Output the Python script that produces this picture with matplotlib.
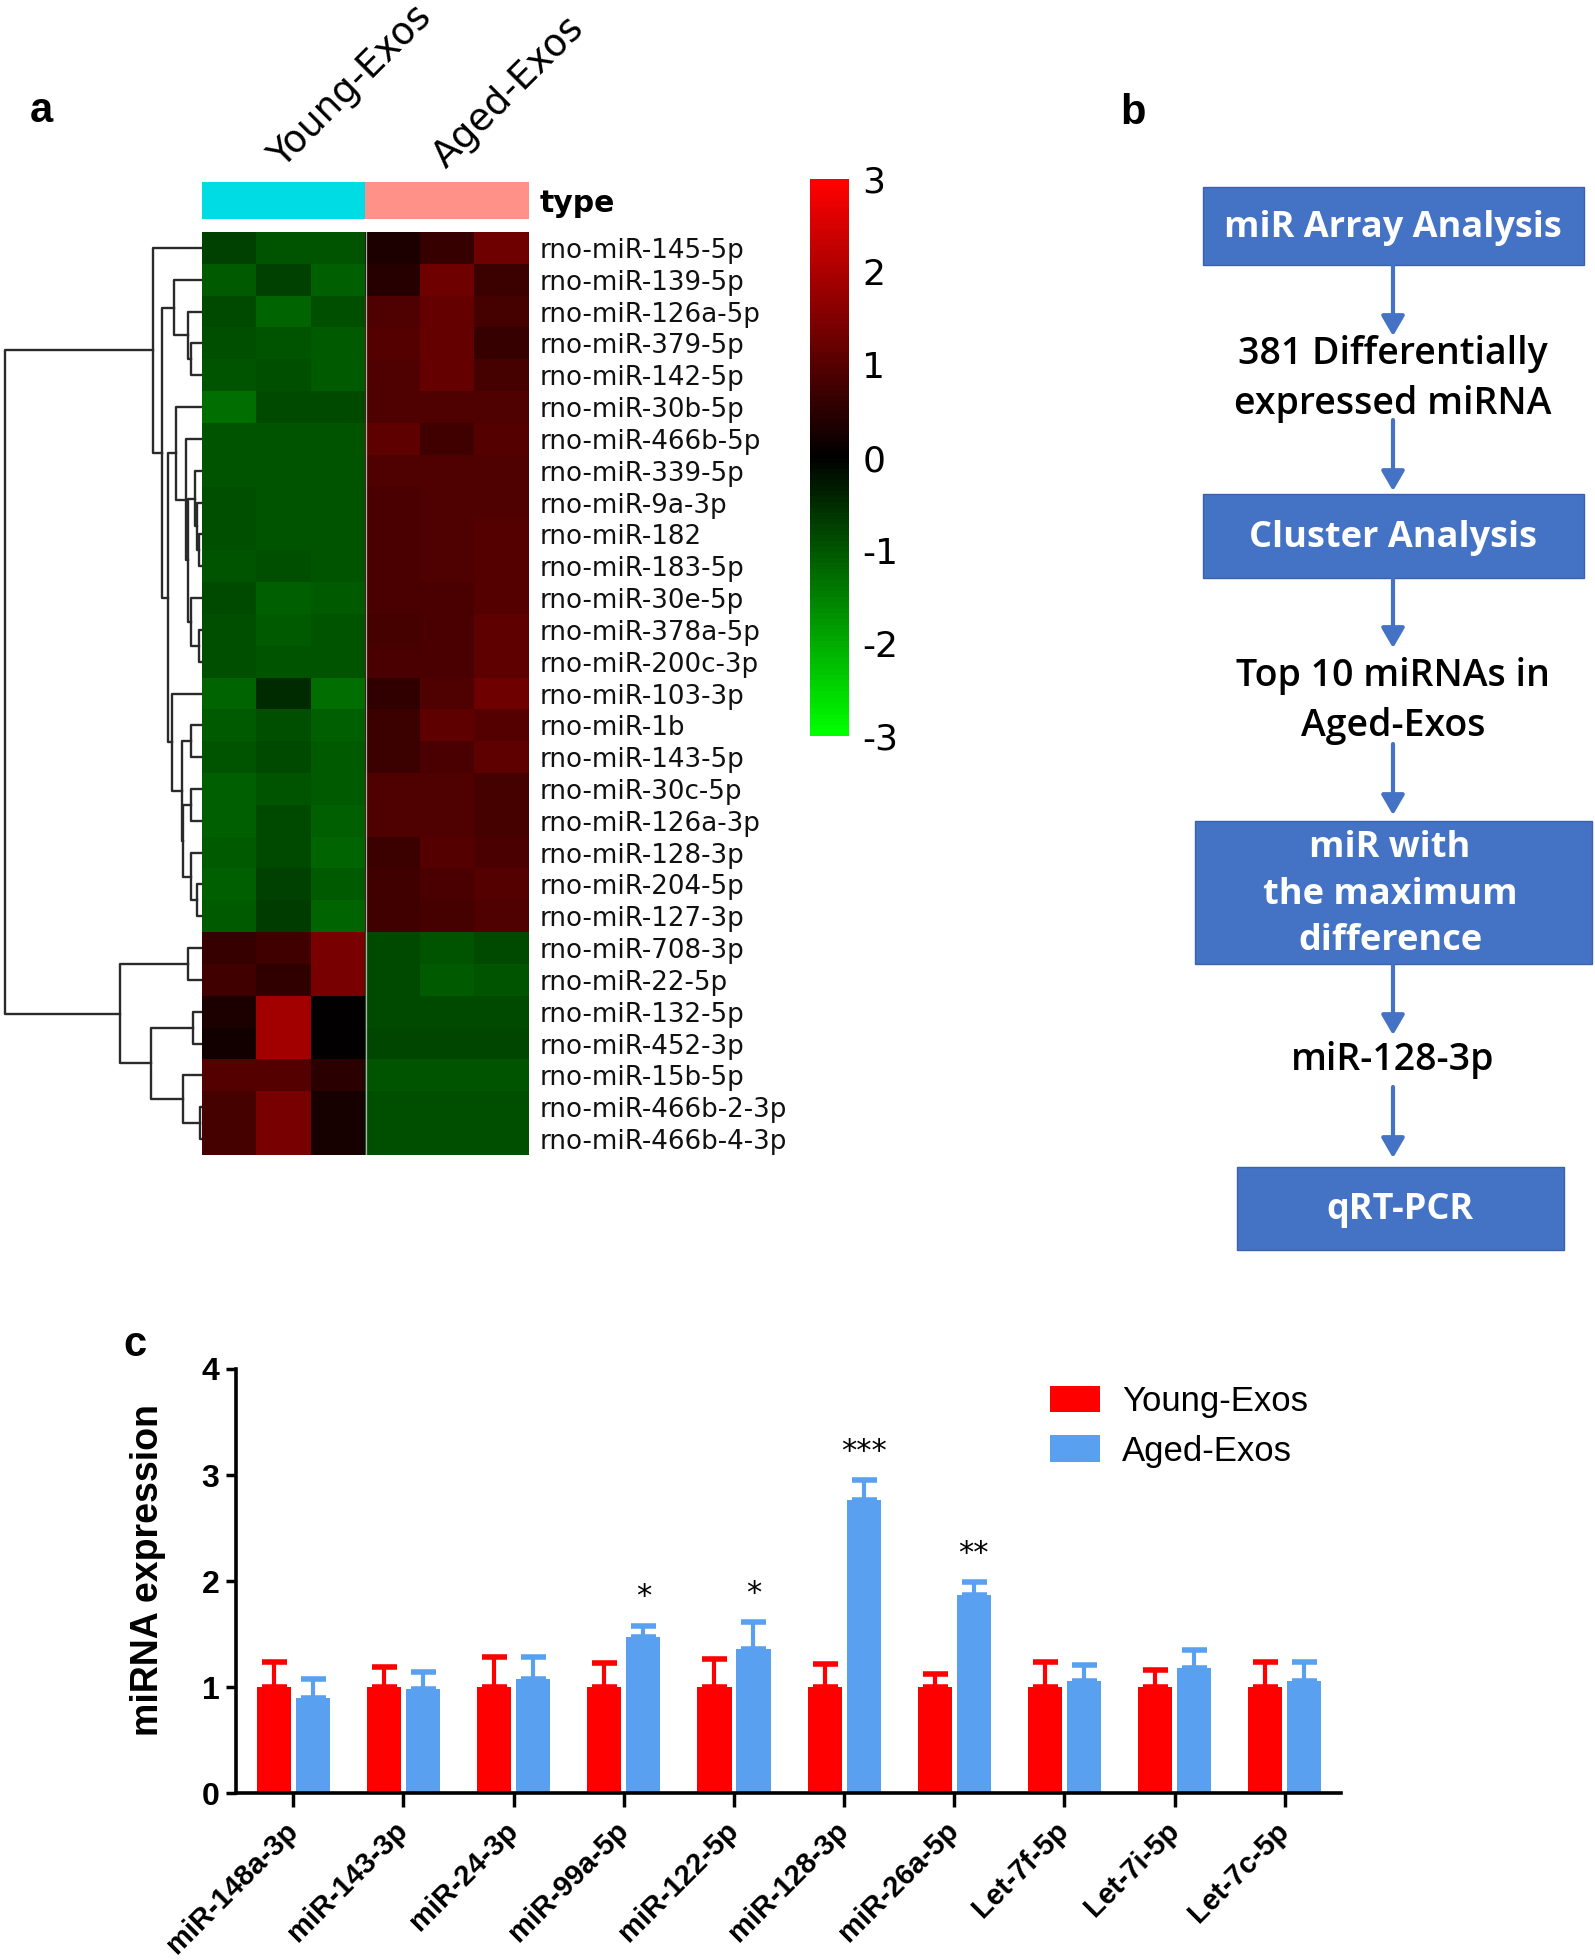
import matplotlib
matplotlib.use('Agg')
import matplotlib.pyplot as plt
import numpy as np
from matplotlib.colors import LinearSegmentedColormap, ListedColormap
from matplotlib.patches import Rectangle

W, H = 1595, 1960

# ---------------- panel a: heatmap data ----------------
mirnas = ['rno-miR-145-5p', 'rno-miR-139-5p', 'rno-miR-126a-5p', 'rno-miR-379-5p',
          'rno-miR-142-5p', 'rno-miR-30b-5p', 'rno-miR-466b-5p', 'rno-miR-339-5p',
          'rno-miR-9a-3p', 'rno-miR-182', 'rno-miR-183-5p', 'rno-miR-30e-5p',
          'rno-miR-378a-5p', 'rno-miR-200c-3p', 'rno-miR-103-3p', 'rno-miR-1b',
          'rno-miR-143-5p', 'rno-miR-30c-5p', 'rno-miR-126a-3p', 'rno-miR-128-3p',
          'rno-miR-204-5p', 'rno-miR-127-3p', 'rno-miR-708-3p', 'rno-miR-22-5p',
          'rno-miR-132-5p', 'rno-miR-452-3p', 'rno-miR-15b-5p', 'rno-miR-466b-2-3p',
          'rno-miR-466b-4-3p']
groups = ['Young-Exos', 'Aged-Exos']
group_colors = ['#00dce3', '#ff9189']
reps = 3

# z-scores, columns: Young x3, Aged x3
expr = np.array([
    [-0.75, -1.00, -1.00, 0.35, 0.65, 1.30],
    [-1.05, -0.75, -1.10, 0.45, 1.30, 0.70],
    [-0.90, -1.20, -0.95, 0.90, 1.15, 0.80],
    [-0.95, -1.00, -1.05, 1.00, 1.15, 0.65],
    [-1.00, -0.95, -1.05, 0.90, 1.15, 0.80],
    [-1.30, -0.90, -0.85, 0.95, 0.95, 0.95],
    [-1.00, -1.00, -1.00, 1.10, 0.75, 1.00],
    [-1.00, -1.00, -1.00, 0.95, 0.90, 0.95],
    [-0.95, -1.00, -1.00, 0.85, 0.90, 0.95],
    [-0.95, -1.00, -1.00, 0.85, 0.90, 1.00],
    [-1.00, -0.95, -1.00, 0.85, 0.90, 1.00],
    [-0.90, -1.10, -1.05, 0.85, 0.85, 1.00],
    [-0.95, -1.05, -1.00, 0.80, 0.85, 1.10],
    [-0.95, -1.00, -1.00, 0.85, 0.85, 1.10],
    [-1.15, -0.50, -1.30, 0.55, 0.90, 1.30],
    [-1.05, -0.95, -1.10, 0.70, 1.10, 1.00],
    [-1.00, -0.90, -1.05, 0.70, 0.85, 1.10],
    [-1.10, -1.00, -1.05, 0.95, 0.95, 0.80],
    [-1.10, -0.85, -1.10, 0.90, 0.90, 0.80],
    [-1.05, -0.85, -1.15, 0.70, 1.00, 0.85],
    [-1.10, -0.75, -1.05, 0.75, 0.85, 1.00],
    [-1.05, -0.70, -1.20, 0.75, 0.80, 0.95],
    [0.60, 0.75, 1.40, -0.85, -1.00, -0.90],
    [0.75, 0.55, 1.40, -0.85, -1.05, -1.00],
    [0.35, 1.90, 0.05, -0.85, -0.85, -0.85],
    [0.20, 1.90, 0.00, -0.80, -0.80, -0.80],
    [1.00, 1.00, 0.50, -1.00, -1.00, -1.00],
    [0.80, 1.40, 0.30, -0.95, -0.95, -0.95],
    [0.80, 1.40, 0.30, -0.95, -0.95, -0.95],
])

# row clustering, scipy style: (left, right, height); new nodes numbered from 29
row_linkage = [
    (3, 4, 11), (2, 29, 14), (1, 30, 28),
    (9, 10, 3), (8, 32, 5), (7, 33, 7), (12, 13, 3), (11, 35, 11),
    (34, 36, 14), (6, 37, 16), (5, 38, 26),
    (15, 16, 11), (17, 18, 11), (20, 21, 5), (19, 42, 11), (41, 43, 19),
    (40, 44, 20), (14, 45, 30), (39, 46, 34), (31, 47, 40), (0, 48, 49),
    (22, 23, 14), (24, 25, 9), (27, 28, 2), (26, 52, 19), (51, 53, 51),
    (50, 54, 82), (49, 55, 197),
]

# ---------------- panel b: workflow ----------------
flow_boxes = ['miR Array Analysis', 'Cluster Analysis',
              'miR with\nthe maximum\ndifference', 'qRT-PCR']
flow_notes = ['381 Differentially\nexpressed miRNA', 'Top 10 miRNAs in\nAged-Exos',
              'miR-128-3p']

# ---------------- panel c: qRT-PCR ----------------
genes = ['miR-148a-3p', 'miR-143-3p', 'miR-24-3p', 'miR-99a-5p', 'miR-122-5p',
         'miR-128-3p', 'miR-26a-5p', 'Let-7f-5p', 'Let-7i-5p', 'Let-7c-5p']
young_mean = [1.0, 1.0, 1.0, 1.0, 1.0, 1.0, 1.0, 1.0, 1.0, 1.0]
young_err = [0.24, 0.19, 0.28, 0.23, 0.26, 0.22, 0.12, 0.24, 0.16, 0.24]
aged_mean = [0.90, 0.98, 1.08, 1.47, 1.36, 2.76, 1.87, 1.06, 1.18, 1.06]
aged_err = [0.18, 0.16, 0.20, 0.11, 0.25, 0.19, 0.12, 0.15, 0.17, 0.18]
stars = ['', '', '', '*', '*', '***', '**', '', '', '']

fig = plt.figure(figsize=(W / 100, H / 100), dpi=100)


def px_axes(x0, y0, x1, y1):
    return fig.add_axes([x0 / W, 1 - y1 / H, (x1 - x0) / W, (y1 - y0) / H])


def fig_text(x, y, s, **kw):
    return fig.text(x / W, 1 - y / H, s, **kw)


# ---- heatmap
gkr = LinearSegmentedColormap.from_list('gkr', ['#00ff00', '#000000', '#ff0000'], N=100)
ax_hm = px_axes(202, 232, 529, 1155)
im = ax_hm.imshow(expr, cmap=gkr, vmin=-3, vmax=3, aspect='auto', interpolation='nearest')
ax_hm.axvline(reps - 0.5, color='#b0b0b0', lw=0.9)
ax_hm.set_xticks([])
ax_hm.yaxis.tick_right()
ax_hm.set_yticks(range(len(mirnas)), mirnas, fontsize=18.8, color='#111111')
ax_hm.tick_params(axis='y', length=0, pad=8)
for s in ax_hm.spines.values():
    s.set_visible(False)

# ---- annotation bar
ax_type = px_axes(202, 182, 529, 219)
ax_type.imshow([np.repeat(np.arange(len(groups)), reps)], cmap=ListedColormap(group_colors),
               aspect='auto', interpolation='nearest')
ax_type.axis('off')
fig_text(540, 203, 'type', fontsize=21.5, fontweight='bold', va='center')
for i, g in enumerate(groups):
    ax_type.text(i * reps + 0.98, -0.85, g, rotation=45, rotation_mode='anchor',
                 ha='left', va='baseline', fontsize=27, clip_on=False)

# ---- colour key
cax = px_axes(810, 179, 849, 736)
cb = fig.colorbar(im, cax=cax, ticks=[3, 2, 1, 0, -1, -2, -3])
cb.set_ticklabels(['3', '2', '1', '0', '-1', '-2', '-3'])
cb.outline.set_visible(False)
cax.tick_params(length=0, pad=9.5, labelsize=26)

# ---- dendrogram
ax_d = px_axes(0, 232, 202, 1155)
n = len(mirnas)
ax_d.set_ylim(n - 0.5, -0.5)
ax_d.set_xlim(202, 0)
ax_d.axis('off')
pos = {i: (float(i), 0.0) for i in range(n)}
for k, (a, b, h) in enumerate(row_linkage):
    ya, ha_ = pos[a]
    yb, hb = pos[b]
    ax_d.plot([ha_, h, h, hb], [ya, ya, yb, yb], color='#2a2a2a', lw=1.7)
    pos[n + k] = ((ya + yb) / 2, h)

# ---- panel b flowchart
blue = '#4472c4'
ax_f = px_axes(1180, 170, 1595, 1260)
ax_f.set_xlim(1180, 1595)
ax_f.set_ylim(1260, 170)
ax_f.axis('off')
box_geom = [(1203, 187, 1584, 265), (1203, 494, 1584, 578),
            (1195, 821, 1592, 964), (1237, 1167, 1564, 1250)]
box_text_x = [1393, 1393, 1390, 1400]
for (x0, y0, x1, y1), label, tx in zip(box_geom, flow_boxes, box_text_x):
    ax_f.add_patch(Rectangle((x0, y0), x1 - x0, y1 - y0, facecolor=blue,
                             edgecolor='#3a62ad', lw=1))
    ax_f.text(tx, (y0 + y1) / 2 + 2, label, ha='center', va='center', color='white',
              fontsize=26, fontweight='bold', family='Open Sans', linespacing=1.4)
note_y = [379, 701, 1060]
for label, y in zip(flow_notes, note_y):
    ax_f.text(1393, y, label, ha='center', va='center', color='black',
              fontsize=27, fontweight='semibold', family='Open Sans', linespacing=1.38)
arrow_spans = [(265, 336), (420, 491), (578, 648), (744, 815), (964, 1035), (1087, 1158)]
for y0, y1 in arrow_spans:
    ax_f.annotate('', xy=(1393, y1), xytext=(1393, y0),
                  arrowprops=dict(arrowstyle='-|>,head_length=0.6,head_width=0.35',
                                  mutation_scale=20, color=blue, lw=3,
                                  shrinkA=0, shrinkB=0))

# ---- panel c bar chart
red, lblue = '#ff0000', '#5aa0f0'
ax_c = px_axes(236, 1369, 1341, 1793)
x = np.arange(len(genes))
bw, off = 0.31, 0.177
b1 = ax_c.bar(x - off, young_mean, bw, color=red, label='Young-Exos')
b2 = ax_c.bar(x + off, aged_mean, bw, color=lblue, label='Aged-Exos')
ax_c.errorbar(x - off, young_mean, yerr=[np.zeros(len(x)), young_err], fmt='none',
              ecolor=red, elinewidth=3, capsize=9, capthick=4)
ax_c.errorbar(x + off, aged_mean, yerr=[np.zeros(len(x)), aged_err], fmt='none',
              ecolor=lblue, elinewidth=3, capsize=9, capthick=4)
for xi, m, e, s in zip(x, aged_mean, aged_err, stars):
    if s:
        ax_c.text(xi + off, m + e + 0.19, s, ha='center', va='baseline', fontsize=22)
ax_c.set_xlim(-0.52, 9.51)
ax_c.set_ylim(0, 4)
ax_c.set_yticks(range(5))
ax_c.set_yticklabels([str(v) for v in range(5)], fontsize=23, fontweight='bold',
                     family='Liberation Sans')
ax_c.set_xticks(x)
ax_c.set_xticklabels(genes, rotation=45, ha='right', va='center', rotation_mode='anchor',
                     fontsize=21, fontweight='bold', family='Liberation Sans')
ax_c.tick_params(axis='y', length=7, width=2.5, pad=5)
ax_c.tick_params(axis='x', length=10, width=2.5, pad=14)
for side in ['top', 'right']:
    ax_c.spines[side].set_visible(False)
for side in ['left', 'bottom']:
    ax_c.spines[side].set_linewidth(2.6)
ax_c.set_ylabel('miRNA expression', fontsize=27, fontweight='bold', family='Liberation Sans')
ax_c.yaxis.set_label_coords(-(236 - 166) / 1105, 0.526)
ax_c.legend(handles=[b1, b2], loc='upper left',
            bbox_to_anchor=((1050 - 236) / 1105, (1793 - 1385) / 424),
            frameon=False, prop={'family': 'Liberation Sans', 'size': 25},
            handlelength=1.45, handleheight=0.8, handletextpad=0.62,
            labelspacing=0.48, borderaxespad=0, borderpad=0)

# ---- panel letters
for letter, (lx, ly) in zip('abc', [(41, 122), (1133, 124), (135, 1356)]):
    fig_text(lx, ly, letter, fontsize=30, fontweight='bold', family='Liberation Sans',
             ha='center', va='baseline')

fig.savefig('out.png', dpi=100, facecolor='white')
